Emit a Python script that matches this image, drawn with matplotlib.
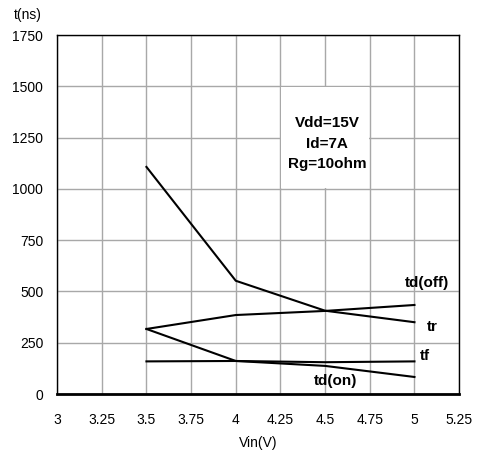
import matplotlib
matplotlib.use("Agg")
import matplotlib.pyplot as plt
from matplotlib.patches import Rectangle

plt.rcParams['font.family'] = ['Liberation Sans', 'DejaVu Sans']
plt.rcParams['font.size'] = 10

vin = [3.5, 4.0, 4.5, 5.0]
tr = [1107, 552, 406, 350]
td_off = [317, 385, 405, 434]
td_on = [317, 161, 137, 83]
tf = [159, 161, 155, 159]

xticks = [3, 3.25, 3.5, 3.75, 4, 4.25, 4.5, 4.75, 5, 5.25]
xtick_labels = ["3", "3.25", "3.5", "3.75", "4", "4.25", "4.5", "4.75", "5", "5.25"]
yticks = [0, 250, 500, 750, 1000, 1250, 1500, 1750]

fig = plt.figure(figsize=(4.8, 4.59), dpi=100)
ax = fig.add_axes([0.119, 0.1416, 0.8375, 0.7821])

for s in (tr, td_off, td_on, tf):
    ax.plot(vin, s, color="black", lw=1.5, zorder=3)

ax.set_xlim(3, 5.25)
ax.set_ylim(0, 1750)
ax.set_xticks(xticks)
ax.set_xticklabels(xtick_labels)
ax.set_yticks(yticks)
ax.grid(True, color="#a8a8a8", lw=1.0)
ax.set_axisbelow(True)
ax.tick_params(length=0)
ax.tick_params(axis="x", pad=14)
ax.tick_params(axis="y", pad=10)
for sp in ax.spines.values():
    sp.set_color("black")
    sp.set_linewidth(1.0)
ax.spines["bottom"].set_linewidth(2.0)

ax.set_xlabel("Vin(V)", labelpad=6)
fig.text(28 / 480, 1 - 15 / 459, "t(ns)", ha="center", va="center", fontsize=10)

bold = dict(fontsize=11, fontweight="bold", ha="center", va="center", zorder=4)
ax.text(5.07, 541, "td(off)", **bold)
ax.text(5.10, 327, "tr", **bold)
ax.text(5.06, 185, "tf", **bold)
ax.text(4.556, 63, "td(on)", **bold)

# white note box sitting inside one grid cell block
ax.add_patch(Rectangle((4.255, 1005), 0.49, 490, facecolor="white",
                       edgecolor="none", zorder=2))
ax.text(4.51, 1220, "Vdd=15V\nId=7A\nRg=10ohm", fontsize=11, fontweight="bold",
        ha="center", va="center", linespacing=1.6, zorder=4)

fig.savefig("out.png", dpi=100)
